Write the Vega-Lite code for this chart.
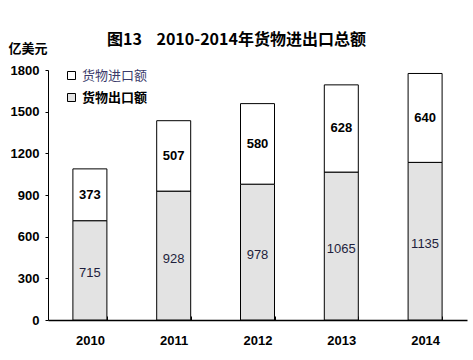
{
  "$schema": "https://vega.github.io/schema/vega-lite/v6.json",
  "width": 419,
  "height": 250,
  "autosize": {"type": "none"},
  "padding": {"left": 48, "top": 70, "right": 6, "bottom": 40},
  "background": "white",
  "title": {
    "text": "图13\u00a0\u00a0\u00a0\u00a02010-2014年货物进出口总额",
    "font": "Noto Sans CJK SC",
    "fontSize": 16,
    "fontWeight": "bold",
    "color": "black",
    "anchor": "middle",
    "frame": "group",
    "dx": -21,
    "offset": -6
  },
  "data": {
    "values": [
      {"year": "2010", "type": "货物出口额", "value": 715, "ord": 1},
      {"year": "2011", "type": "货物出口额", "value": 928, "ord": 1},
      {"year": "2012", "type": "货物出口额", "value": 978, "ord": 1},
      {"year": "2013", "type": "货物出口额", "value": 1065, "ord": 1},
      {"year": "2014", "type": "货物出口额", "value": 1135, "ord": 1},
      {"year": "2010", "type": "货物进口额", "value": 373, "ord": 2},
      {"year": "2011", "type": "货物进口额", "value": 507, "ord": 2},
      {"year": "2012", "type": "货物进口额", "value": 580, "ord": 2},
      {"year": "2013", "type": "货物进口额", "value": 628, "ord": 2},
      {"year": "2014", "type": "货物进口额", "value": 640, "ord": 2}
    ]
  },
  "transform": [
    {"stack": "value", "groupby": ["year"], "sort": [{"field": "ord", "order": "ascending"}], "as": ["v0", "v1"]},
    {"calculate": "(datum.v0 + datum.v1) / 2", "as": "mid"}
  ],
  "encoding": {
    "x": {
      "field": "year",
      "type": "ordinal",
      "title": null,
      "scale": {"paddingInner": 0.59, "paddingOuter": 0.295},
      "axis": {
        "labelAngle": 0,
        "labelFont": "Liberation Sans",
        "labelFontSize": 13,
        "labelFontWeight": "bold",
        "labelColor": "black",
        "domainColor": "black",
        "domainWidth": 1.5,
        "tickColor": "black",
        "tickWidth": 1,
        "tickBand": "extent",
        "tickSize": -4,
        "labelPadding": 18,
        "grid": false
      }
    }
  },
  "layer": [
    {
      "mark": {"type": "bar", "size": 34, "stroke": "black", "strokeWidth": 1},
      "encoding": {
        "y": {
          "field": "v0",
          "type": "quantitative",
          "scale": {"domain": [0, 1800]},
          "axis": {
            "values": [0, 300, 600, 900, 1200, 1500, 1800],
            "format": "d",
            "grid": false,
            "title": "亿美元",
            "titleAngle": 0,
            "titleAlign": "left",
            "titleBaseline": "middle",
            "titleX": -40,
            "titleY": -22,
            "titleFont": "Noto Sans CJK SC",
            "titleFontSize": 13,
            "titleFontWeight": "bold",
            "titleColor": "black",
            "labelFont": "Liberation Sans",
            "labelFontSize": 13,
            "labelFontWeight": "bold",
            "labelColor": "black",
            "labelPadding": 6,
            "tickSize": 3,
            "tickColor": "black",
            "domainColor": "black"
          }
        },
        "y2": {"field": "v1"},
        "fill": {
          "field": "type",
          "type": "nominal",
          "scale": {"domain": ["货物进口额", "货物出口额"], "range": ["white", "#e3e3e3"]},
          "legend": {
            "title": null,
            "orient": "none",
            "legendX": 17,
            "legendY": -1,
            "symbolType": "square",
            "symbolSize": 64,
            "symbolStrokeColor": "black",
            "symbolStrokeWidth": 1,
            "labelFont": "Noto Sans CJK SC",
            "labelFontSize": 13,
            "labelColor": "black",
            "rowPadding": 8,
            "labelOffset": 4,
            "encode": {
              "labels": {
                "update": {
                  "fontWeight": {"signal": "datum.label === '货物出口额' ? 'bold' : 'normal'"},
                  "fill": {"signal": "datum.label === '货物出口额' ? 'black' : '#3a3a6a'"}
                }
              }
            }
          }
        }
      }
    },
    {
      "transform": [{"filter": "datum.type === '货物进口额'"}],
      "mark": {"type": "text", "font": "Liberation Sans", "fontSize": 13, "fontWeight": "bold", "baseline": "middle", "color": "black"},
      "encoding": {
        "y": {"field": "mid", "type": "quantitative"},
        "text": {"field": "value", "type": "quantitative"}
      }
    },
    {
      "transform": [{"filter": "datum.type === '货物出口额'"}],
      "mark": {"type": "text", "font": "Liberation Sans", "fontSize": 13, "fontWeight": "normal", "baseline": "middle", "color": "#1e1e3c", "dy": 3},
      "encoding": {
        "y": {"field": "mid", "type": "quantitative"},
        "text": {"field": "value", "type": "quantitative", "format": "d"}
      }
    }
  ],
  "config": {
    "view": {"stroke": null}
  }
}
